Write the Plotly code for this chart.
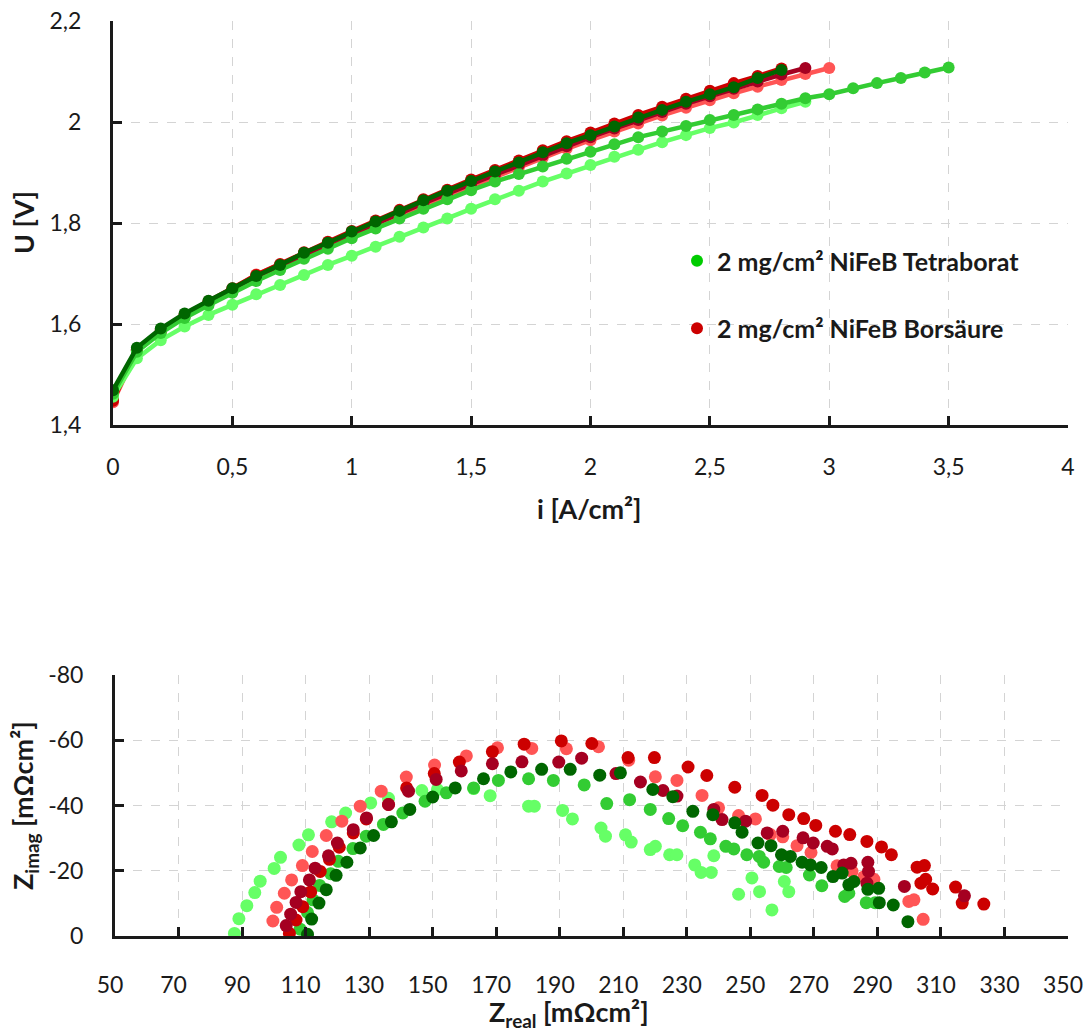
import plotly.graph_objects as go

# ---------------- Polarisation curves (top) ----------------
i_vals = [0, 0.1, 0.2, 0.3, 0.4, 0.5, 0.6, 0.7, 0.8, 0.9, 1.0, 1.1, 1.2, 1.3, 1.4, 1.5,
          1.6, 1.7, 1.8, 1.9, 2.0, 2.1, 2.2, 2.3, 2.4, 2.5, 2.6, 2.7, 2.8, 2.9, 3.0,
          3.1, 3.2, 3.3, 3.4, 3.5]

u_tetra_light = [1.456, 1.532, 1.568, 1.595, 1.618, 1.638, 1.659, 1.677, 1.697, 1.717,
                 1.735, 1.753, 1.773, 1.791, 1.809, 1.828, 1.847, 1.864, 1.882, 1.898,
                 1.915, 1.931, 1.945, 1.960, 1.974, 1.988, 1.999, 2.014, 2.027, 2.040]
u_tetra_mid = [1.462, 1.545, 1.582, 1.612, 1.637, 1.662, 1.685, 1.707, 1.729, 1.749,
               1.770, 1.789, 1.809, 1.828, 1.847, 1.865, 1.882, 1.897, 1.912, 1.927,
               1.941, 1.956, 1.970, 1.981, 1.992, 2.004, 2.014, 2.025, 2.036, 2.047,
               2.055, 2.067, 2.077, 2.087, 2.098, 2.108]
u_tetra_dark = [1.469, 1.553, 1.591, 1.621, 1.646, 1.671, 1.695, 1.717, 1.741, 1.761,
                1.783, 1.803, 1.824, 1.845, 1.864, 1.883, 1.902, 1.920, 1.940, 1.958,
                1.974, 1.991, 2.009, 2.024, 2.040, 2.055, 2.069, 2.087, 2.103]
u_bors_light = [1.445, 1.547, 1.586, 1.617, 1.643, 1.669, 1.698, 1.717, 1.738, 1.758,
                1.778, 1.797, 1.816, 1.835, 1.854, 1.873, 1.892, 1.910, 1.929, 1.947,
                1.964, 1.981, 1.997, 2.013, 2.028, 2.043, 2.057, 2.070, 2.083, 2.095,
                2.107]
u_bors_mid = [1.448, 1.550, 1.588, 1.619, 1.645, 1.671, 1.697, 1.719, 1.742, 1.763,
              1.784, 1.805, 1.826, 1.847, 1.866, 1.886, 1.905, 1.924, 1.944, 1.962,
              1.979, 1.997, 2.014, 2.030, 2.046, 2.062, 2.077, 2.091, 2.106]
u_bors_dark = [1.452, 1.548, 1.585, 1.615, 1.641, 1.666, 1.692, 1.714, 1.736, 1.757,
               1.778, 1.798, 1.819, 1.839, 1.858, 1.877, 1.896, 1.915, 1.934, 1.952,
               1.970, 1.987, 2.004, 2.020, 2.036, 2.051, 2.066, 2.080, 2.094, 2.107]

i_ticks = [0, 0.5, 1, 1.5, 2, 2.5, 3, 3.5, 4]
i_ticktext = ["0", "0,5", "1", "1,5", "2", "2,5", "3", "3,5", "4"]
u_ticks = [1.4, 1.6, 1.8, 2.0, 2.2]
u_ticktext = ["1,4", "1,6", "1,8", "2", "2,2"]

# ---------------- Nyquist (bottom) ----------------
zr_tetra_light = [87.6, 89.0, 91.5, 94.0, 95.7, 100.1, 102.1, 107.9, 110.9, 118.2, 122.6, 130.5,
                  136.1, 146.6, 151.5, 162.9, 168.1, 180.2, 182.0, 190.9, 194.0, 203.0, 204.4,
                  210.7, 212.5, 218.5, 220.1, 224.6, 226.9, 232.5, 234.5, 237.7, 238.5, 246.3,
                  250.5, 252.9, 256.8, 260.7, 262.1]
zi_tetra_light = [-0.8, -5.3, -9.3, -13.3, -16.8, -20.7, -24.1, -27.9, -31.0, -35.0, -37.7, -40.8,
                  -42.2, -44.6, -44.9, -45.2, -43.0, -39.8, -39.8, -38.5, -35.9, -33.1, -30.6,
                  -31.0, -28.8, -26.5, -27.5, -24.9, -24.9, -21.8, -19.5, -19.5, -24.6, -12.8,
                  -17.8, -13.6, -8.0, -16.7, -13.6]

zr_tetra_mid = [108.3, 110.6, 112.3, 114.4, 117.9, 120.3, 124.9, 129.1, 134.5, 140.6, 147.6, 154.3,
                162.9, 170.7, 180.2, 188.0, 197.7, 204.8, 212.0, 218.5, 224.3, 228.7, 234.3, 237.4,
                242.3, 244.8, 248.9, 252.8, 254.2, 259.1, 261.3, 268.6, 272.5, 279.7, 281.0,
                286.5, 289.3]
zi_tetra_mid = [-2.1, -7.2, -11.1, -15.5, -19.1, -22.9, -26.8, -30.6, -34.2, -37.7, -41.3, -43.9,
                -45.4, -47.7, -48.2, -47.7, -46.3, -40.6, -41.8, -38.8, -36.0, -33.8, -31.8, -29.8,
                -27.5, -26.7, -24.9, -24.4, -22.6, -21.3, -21.0, -18.7, -15.4, -12.1, -13.1,
                -10.2, -10.2]

zr_tetra_dark = [110.6, 111.9, 114.2, 116.5, 119.6, 123.0, 127.2, 131.4, 137.0, 142.8, 150.0, 157.1,
                 166.0, 174.6, 184.3, 193.3, 202.6, 209.1, 219.3, 225.6, 231.9, 238.2, 245.1,
                 247.4, 252.4, 256.5, 259.8, 262.6, 266.3, 268.9, 272.3, 276.0, 278.9, 281.0,
                 282.6, 287.0, 290.4, 290.6, 295.0, 299.6]
zi_tetra_dark = [-0.5, -5.2, -10.1, -14.2, -18.6, -22.6, -27.0, -30.8, -35.0, -38.8, -42.6, -45.4,
                 -48.2, -50.3, -51.1, -51.1, -49.3, -50.0, -44.9, -42.7, -38.2, -37.2, -34.7,
                 -31.8, -28.5, -27.7, -24.9, -24.4, -22.6, -21.8, -21.0, -18.2, -19.3, -15.7,
                 -16.7, -14.3, -14.6, -10.2, -9.5, -4.4]

zr_bors_light = [99.7, 100.9, 103.3, 105.6, 109.0, 112.1, 116.5, 121.4, 127.2, 133.8, 141.7, 150.6,
                 160.6, 170.4, 181.2, 192.1, 202.2, 211.7, 220.1, 226.9, 234.8, 240.0, 246.3,
                 251.6, 256.3, 260.2, 264.7, 269.1, 277.3, 282.0, 285.7, 288.9, 299.9, 301.5, 304.4]
zi_bors_light = [-4.6, -8.8, -13.1, -17.2, -21.6, -25.9, -30.8, -35.2, -39.8, -44.4, -48.7, -52.4,
                 -55.2, -57.7, -57.5, -57.4, -58.0, -53.9, -48.8, -47.7, -43.1, -39.3, -36.9,
                 -35.9, -31.1, -30.4, -27.7, -25.6, -21.5, -19.8, -18.1, -17.4, -10.6, -11.1, -5.1]

zr_bors_mid = [104.9, 107.0, 109.1, 111.6, 114.6, 117.5, 120.6, 125.0, 129.1, 136.1, 141.8, 150.5,
               158.4, 168.8, 178.8, 190.5, 200.1, 211.5, 219.8, 230.4, 236.3, 245.1, 253.7, 257.1,
               262.1, 266.8, 270.6, 276.8, 281.3, 286.7, 291.3, 294.4, 302.5, 304.8, 303.7, 305.2,
               307.4, 314.6, 316.7, 323.5]
zi_bors_mid = [-0.8, -4.9, -9.0, -13.5, -19.8, -23.5, -27.2, -31.6, -35.9, -40.3, -45.4, -49.8,
               -53.3, -56.5, -58.8, -59.8, -59.0, -54.7, -54.7, -51.8, -49.2, -45.6, -43.1, -40.1,
               -37.2, -36.0, -33.9, -32.1, -31.1, -29.0, -27.3, -24.9, -21.1, -21.6, -16.2, -17.4,
               -14.4, -15.0, -10.1, -9.8]

zr_bors_dark = [103.9, 105.3, 107.0, 108.5, 111.2, 113.0, 117.2, 120.0, 125.0, 129.2, 136.1, 142.4,
                151.1, 159.0, 168.8, 178.1, 189.7, 196.9, 207.7, 215.4, 222.5, 226.9, 238.5, 241.1,
                248.5, 255.3, 260.2, 266.6, 269.8, 274.2, 275.8, 279.4, 281.7, 287.0, 287.2, 286.7,
                298.5, 317.4]
zi_bors_dark = [-3.2, -6.7, -10.3, -13.6, -17.2, -20.8, -24.6, -28.5, -32.6, -36.2, -40.3, -44.4,
                -48.0, -50.6, -52.8, -53.4, -53.3, -54.5, -49.8, -47.2, -44.6, -42.9, -38.8, -35.7,
                -35.2, -31.6, -32.1, -30.1, -28.5, -27.5, -26.7, -21.8, -22.3, -22.6, -19.8, -16.2,
                -15.2, -12.3]

zr_ticks = [50, 70, 90, 110, 130, 150, 170, 190, 210, 230, 250, 270, 290, 310, 330, 350]
zi_ticks = [0, -20, -40, -60, -80]
zi_ticktext = ["0", "-20", "-40", "-60", "-80"]

legend_names = ["2 mg/cm² NiFeB Tetraborat", "2 mg/cm² NiFeB Borsäure"]

C_LG, C_MG, C_DG = "#66FF66", "#33CC33", "#006600"
C_LR, C_MR, C_DR = "#FF5555", "#CC0000", "#A50021"
C_LEG_G, C_LEG_R = "#00CC00", "#CC0000"
FONT = "Lato"
INK = "#1a1a1a"

W, H = 1086, 1033
fig = go.Figure()

top_series = [
    (u_bors_light, C_LR), (u_bors_dark, C_DR), (u_bors_mid, C_MR),
    (u_tetra_light, C_LG), (u_tetra_mid, C_MG), (u_tetra_dark, C_DG),
]
for u, c in top_series:
    fig.add_trace(go.Scatter(
        x=i_vals[:len(u)], y=u, mode="lines+markers",
        line=dict(color=c, width=4.5), marker=dict(color=c, size=12),
        showlegend=False, xaxis="x", yaxis="y", hoverinfo="skip"))

bottom_series = [
    (zr_tetra_light, zi_tetra_light, C_LG), (zr_tetra_mid, zi_tetra_mid, C_MG),
    (zr_bors_light, zi_bors_light, C_LR), (zr_bors_mid, zi_bors_mid, C_MR),
    (zr_bors_dark, zi_bors_dark, C_DR), (zr_tetra_dark, zi_tetra_dark, C_DG),
]
for zr, zi, c in bottom_series:
    fig.add_trace(go.Scatter(
        x=zr, y=zi, mode="markers", marker=dict(color=c, size=13),
        showlegend=False, xaxis="x2", yaxis="y2", hoverinfo="skip"))

for k, (name, c) in enumerate(zip(legend_names, [C_LEG_G, C_LEG_R])):
    fig.add_trace(go.Scatter(
        x=[None], y=[None], mode="markers", name=name,
        marker=dict(color=c, size=12), legendgroup=f"g{k}",
        xaxis="x", yaxis="y"))

axis_common = dict(
    showline=True, linewidth=3, linecolor=INK,
    ticks="inside", ticklen=9, tickwidth=3, tickcolor=INK,
    showgrid=True, gridcolor="#d4d4d4", gridwidth=1, griddash="dash",
    zeroline=False, automargin=False, ticklabeloverflow="allow",
    tickfont=dict(family=FONT, size=23, color=INK),
)

TITLE_FONT = dict(family=FONT, size=27, color=INK)

fig.update_layout(
    width=W, height=H,
    margin=dict(l=0, r=0, t=0, b=0, autoexpand=False),
    paper_bgcolor="white", plot_bgcolor="white",
    font=dict(family=FONT, color=INK),
    xaxis=dict(domain=[113 / W, 1068 / W], range=[0, 4], tickvals=i_ticks,
               ticktext=i_ticktext, anchor="y", ticklabelstandoff=19, **axis_common),
    yaxis=dict(domain=[1 - 425 / H, 1 - 21 / H], range=[1.4, 2.2], tickvals=u_ticks,
               ticktext=u_ticktext, anchor="x", ticklabelstandoff=24, **axis_common),
    xaxis2=dict(domain=[115 / W, 1068 / W], range=[50, 350], tickvals=zr_ticks,
                anchor="y2", ticklabelstandoff=26, ticklabelshift=-5, **axis_common),
    yaxis2=dict(domain=[1 - 936 / H, 1 - 675 / H], range=[0, -80], tickvals=zi_ticks,
                ticktext=zi_ticktext, anchor="x2", ticklabelstandoff=24, **axis_common),
    legend=dict(x=677 / W, xanchor="left", y=1 - 238 / H, yanchor="top",
                font=dict(family=FONT, size=25, color=INK, weight="bold"),
                bgcolor="rgba(0,0,0,0)", tracegroupgap=32, itemwidth=30),
    annotations=[
        dict(text="<b>U [V]</b>", x=23 / W, y=1 - 223 / H, xref="paper", yref="paper",
             xanchor="center", yanchor="middle",
             textangle=-90, showarrow=False, font=TITLE_FONT),
        dict(text="<b>i [A/cm²]</b>", x=590 / W, y=1 - 508 / H, xref="paper", yref="paper",
             xanchor="center", yanchor="middle", showarrow=False, font=TITLE_FONT),
        dict(text="<b>Z<sub>imag</sub> [mΩcm²]</b>", x=24 / W, y=1 - 806 / H, xref="paper",
             yref="paper", xanchor="center", yanchor="middle",
             textangle=-90, showarrow=False, font=TITLE_FONT),
        dict(text="<b>Z<sub>real</sub> [mΩcm²]</b>", x=569 / W, y=1 - 1013 / H, xref="paper",
             yref="paper", xanchor="center", yanchor="middle",
             showarrow=False, font=TITLE_FONT),
    ],
)

fig.write_html("out.html")
